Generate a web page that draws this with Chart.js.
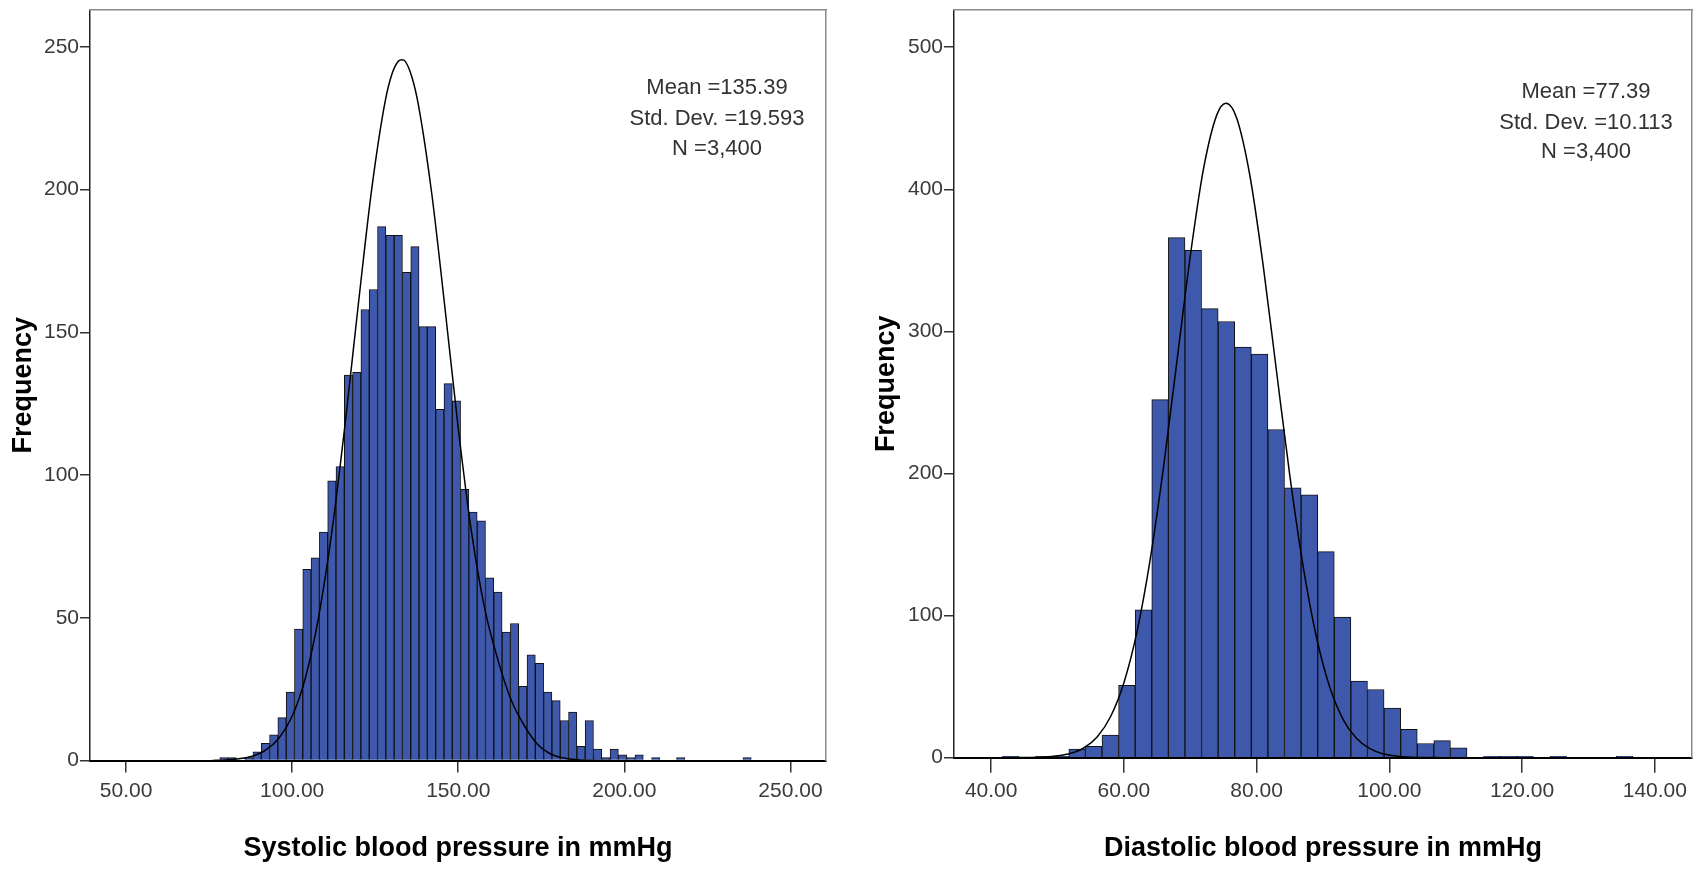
<!DOCTYPE html>
<html>
<head>
<meta charset="utf-8">
<script src="https://cdn.jsdelivr.net/npm/chart.js@4.4.1/dist/chart.umd.min.js"></script>
<style>
  html, body { margin: 0; padding: 0; background: #ffffff; }
  #wrap { position: relative; width: 1700px; height: 869px; overflow: hidden; }
  .panel { position: absolute; top: 0; width: 850px; height: 869px; }
</style>
</head>
<body>
<div id="wrap">
  <div class="panel" style="left:0px"><canvas id="sys" width="850" height="869"></canvas></div>
  <div class="panel" style="left:850px"><canvas id="dia" width="850" height="869"></canvas></div>
</div>
<script>
// ---------- Systolic histogram (bin lower edges, width 2.5) ----------
const sysBinEdges = [78.2, 80.7, 83.2, 85.7, 88.2, 90.7, 93.2, 95.7, 98.2, 100.7, 103.2, 105.7, 108.2, 110.7, 113.2, 115.7,
  118.2, 120.7, 123.2, 125.7, 128.2, 130.7, 133.2, 135.7, 138.2, 140.7, 143.2, 145.7, 148.2, 150.7, 153.2, 155.7,
  158.2, 160.7, 163.2, 165.7, 168.2, 170.7, 173.2, 175.7, 178.2, 180.7, 183.2, 185.7, 188.2, 190.7, 193.2, 195.7,
  198.2, 200.7, 203.2, 205.7, 208.2, 210.7, 213.2, 215.7, 218.2, 220.7, 223.2, 225.7, 228.2, 230.7, 233.2, 235.7];
const sysCounts = [1, 1, 0, 1, 3, 6, 9, 15, 24, 46, 67, 71, 80, 98, 103, 135,
  136, 158, 165, 187, 184, 184, 171, 180, 152, 152, 123, 132, 126, 95, 87, 84,
  64, 59, 45, 48, 26, 37, 34, 24, 21, 14, 17, 5, 14, 4, 1, 4,
  2, 1, 2, 0, 1, 0, 0, 1, 0, 0, 0, 0, 0, 0, 0, 1];
const sysCurveX = [76, 80, 84, 88, 92, 96, 100, 104, 108, 112, 116, 120, 124, 128, 130, 132, 133, 134, 136, 138,
  142, 146, 150, 154, 158, 162, 166, 170, 174, 178, 182, 186, 190, 196];
const sysCurveY = [0, 0.2, 0.6, 1.5, 3.6, 7.8, 15.5, 29, 50.5, 80.5, 118.5, 160.6, 200.6, 230.9, 240.3, 245, 245.5, 245, 239.6, 229.7,
  198.8, 158.5, 116.4, 80, 53, 35, 21, 12, 5.5, 2.2, 0.8, 0.3, 0.1, 0];
const sysXTicks = [50, 100, 150, 200, 250];
const sysYTicks = [0, 50, 100, 150, 200, 250];
const sysStats = ['Mean =135.39', 'Std. Dev. =19.593', 'N =3,400'];
const sysTitle = 'Systolic blood pressure in mmHg';

// ---------- Diastolic histogram ----------
const diaBinEdges = [41.7, 44.2, 46.7, 49.2, 51.7, 54.2, 56.7, 59.2, 61.7, 64.2, 66.7, 69.2, 71.7, 74.2, 76.7, 79.2,
  81.7, 84.2, 86.7, 89.2, 91.7, 94.2, 96.7, 99.2, 101.7, 104.2, 106.7, 109.2, 111.7, 114.2, 116.7, 119.2,
  121.7, 124.2, 126.7, 129.2, 131.7, 134.2];
const diaCounts = [1, 0, 1, 1, 6, 8, 16, 51, 104, 252, 366, 357, 316, 307, 289, 284,
  231, 190, 185, 145, 99, 54, 48, 35, 20, 10, 12, 7, 0, 1, 1, 1,
  0, 1, 0, 0, 0, 1];
const diaCurveX = [40, 44, 48, 50, 52, 54, 56, 58, 60, 62, 64, 66, 68, 70, 72, 74, 75.4, 77, 79, 81, 83, 85, 87, 89,
  91, 93, 95, 97, 99, 102, 106, 110];
const diaCurveY = [0, 0.1, 0.5, 1.3, 3.1, 7, 14.8, 29, 52.8, 89.3, 140.6, 205.5, 279.4, 352.9, 414.5, 452.4, 460.6, 450,
  409.2, 345.9, 271.8, 198.5, 134.8, 85.1, 49.9, 27.2, 13.8, 6.5, 2.8, 0.7, 0.1, 0];
const diaXTicks = [40, 60, 80, 100, 120, 140];
const diaYTicks = [0, 100, 200, 300, 400, 500];
const diaStats = ['Mean =77.39', 'Std. Dev. =10.113', 'N =3,400'];
const diaTitle = 'Diastolic blood pressure in mmHg';

const binWidth = 2.5;
const FONT = "'Liberation Sans', Arial, sans-serif";

const statsPlugin = {
  id: 'statsText',
  afterDraw(chart, args, opts) {
    const ctx = chart.ctx;
    ctx.save();
    ctx.font = opts.size + 'px ' + FONT;
    ctx.fillStyle = '#333333';
    ctx.textAlign = 'center';
    ctx.textBaseline = 'middle';
    opts.lines.forEach((t, i) => ctx.fillText(t, opts.x, opts.ys[i]));
    ctx.restore();
  }
};

function makeHist(id, d) {
  const bars = d.edges.map((e, i) => ({ x: e + binWidth / 2, y: d.counts[i] }));
  const curve = d.curveX.map((x, i) => ({ x: x, y: d.curveY[i] }));
  return new Chart(document.getElementById(id), {
    type: 'bar',
    data: {
      datasets: [
        { type: 'line', data: curve, borderColor: '#000000', borderWidth: 1.5, pointRadius: 0,
          fill: false, cubicInterpolationMode: 'monotone', order: 1 },
        { type: 'bar', data: bars, backgroundColor: '#3e59ac', borderColor: '#111111', borderWidth: 1,
          barPercentage: 1, categoryPercentage: 1, order: 2 }
      ]
    },
    options: {
      responsive: false,
      animation: false,
      events: [],
      layout: { padding: d.padding },
      plugins: {
        legend: { display: false },
        tooltip: { enabled: false },
        statsText: { lines: d.stats, x: d.statsX, ys: d.statsY, size: 22 }
      },
      scales: {
        x: {
          type: 'linear', position: 'bottom', min: d.xMin, max: d.xMax, offset: false,
          afterBuildTicks: s => { s.ticks = d.xTicks.map(v => ({ value: v })); },
          afterFit: s => { s.height = d.xAxisH; s.paddingLeft = 0; s.paddingRight = 0; },
          ticks: { autoSkip: false, maxRotation: 0, padding: d.xTickPad, color: '#3a3a3a',
            font: { family: FONT, size: 21, lineHeight: 1 }, callback: v => Number(v).toFixed(2) },
          grid: { display: true, offset: false, drawOnChartArea: false, drawTicks: true, tickLength: d.xTickLen,
            color: '#333333', lineWidth: 1.5 },
          border: { display: true, color: '#000000', width: 2 },
          title: { display: true, text: d.title, color: '#000000',
            font: { family: FONT, size: 27, weight: 'bold', lineHeight: 1 }, padding: { top: 0, bottom: 7 } }
        },
        y: {
          type: 'linear', position: 'left', min: 0, max: d.yMax,
          afterBuildTicks: s => { s.ticks = d.yTicks.map(v => ({ value: v })); },
          afterFit: s => { s.width = d.yAxisW; s.paddingTop = 0; s.paddingBottom = 0; },
          ticks: { padding: 1, color: '#3a3a3a', font: { family: FONT, size: 21, lineHeight: 1 },
            callback: v => String(v) },
          grid: { display: true, offset: false, drawOnChartArea: false, drawTicks: true, tickLength: 10,
            color: '#333333', lineWidth: 1.5 },
          border: { display: true, color: '#222222', width: 1.5 },
          title: { display: true, text: 'Frequency', color: '#000000',
            font: { family: FONT, size: 27, weight: 'bold', lineHeight: 1 }, padding: { top: d.yTitlePad, bottom: 0 } }
        },
        x2: {
          type: 'linear', position: 'top', display: true,
          ticks: { display: false }, grid: { display: false },
          border: { display: true, color: '#8a8a8a', width: 1.5 },
          afterFit: s => { s.height = 0; s.paddingLeft = 0; s.paddingRight = 0; }
        },
        y2: {
          type: 'linear', position: 'right', display: true,
          ticks: { display: false }, grid: { display: false },
          border: { display: true, color: '#8a8a8a', width: 1.5 },
          afterFit: s => { s.width = 0; s.paddingTop = 0; s.paddingBottom = 0; }
        }
      }
    },
    plugins: [statsPlugin]
  });
}

makeHist('sys', {
  edges: sysBinEdges, counts: sysCounts, curveX: sysCurveX, curveY: sysCurveY,
  xTicks: sysXTicks, yTicks: sysYTicks, stats: sysStats, title: sysTitle,
  xMin: 39.15, xMax: 260.7, yMax: 262.9,
  padding: { left: 0, right: 24, top: 10, bottom: 0 },
  yAxisW: 90, xAxisH: 108.5, xTickLen: 12, xTickPad: 8, yTitlePad: 10.5,
  statsX: 717, statsY: [88, 118.5, 149]
});

makeHist('dia', {
  edges: diaBinEdges, counts: diaCounts, curveX: diaCurveX, curveY: diaCurveY,
  xTicks: diaXTicks, yTicks: diaYTicks, stats: diaStats, title: diaTitle,
  xMin: 34.4, xMax: 145.6, yMax: 526.2,
  padding: { left: 0, right: 8, top: 10, bottom: 0 },
  yAxisW: 104, xAxisH: 111.3, xTickLen: 15, xTickPad: 8, yTitlePad: 23.5,
  statsX: 736, statsY: [92, 122.5, 152]
});
</script>
</body>
</html>
